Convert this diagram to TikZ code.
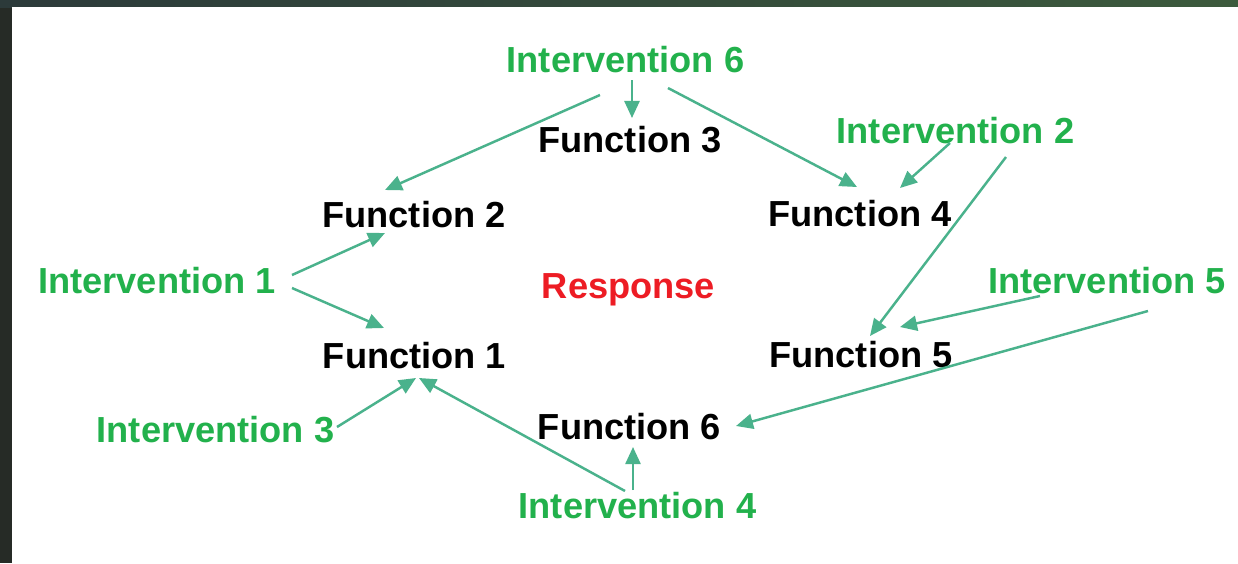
\documentclass[tikz,border=0pt]{standalone}
\usepackage{fontspec}
\setmainfont{Liberation Sans}
\usepackage{tikz}
\usetikzlibrary{arrows.meta}
\definecolor{frameDark}{RGB}{38,43,38}
\definecolor{frameLeft}{RGB}{44,58,58}
\definecolor{frameRight}{RGB}{60,90,60}
\definecolor{intGreen}{RGB}{34,177,76}
\definecolor{arrowTeal}{RGB}{74,178,140}
\definecolor{respRed}{RGB}{237,28,36}
\tikzset{
  func/.style={inner sep=0pt, anchor=base, font=\fontsize{10.3}{12}\selectfont\bfseries, text=black},
  interv/.style={func, text=intGreen},
  resp/.style={func, text=respRed},
  arr/.style={draw=arrowTeal, line width=0.7pt, -{Triangle[length=0.17cm,width=0.15cm]}}
}

\begin{document}
\begin{tikzpicture}[x=0.01cm, y=-0.01cm]
		% screenshot frame
		\fill[frameDark] (0,0) rectangle (1238,563);
		\shade[left color=frameLeft, right color=frameRight] (0,0) rectangle (1238,7);
		\fill[white] (12,7) rectangle (1238,563);
		\useasboundingbox (0,0) rectangle (1238,563);
		
		\node[resp] (response) at (628.5,298) {Response};
		
		\node[func] (f1) at (414.5,368) {Function 1};
		\node[func] (f2) at (414,227) {Function 2};
		\node[func] (f3) at (630,152) {Function 3};
		\node[func] (f4) at (860,226) {Function 4};
		\node[func] (f5) at (861,367) {Function 5};
		\node[func] (f6) at (629.5,439) {Function 6};
		
		\node[interv] (i1) at (157,293) {Intervention 1};
		\node[interv] (i2) at (955.5,143) {Intervention 2};
		\node[interv] (i3) at (215.5,442) {Intervention 3};
		\node[interv] (i4) at (637.5,518) {Intervention 4};
		\node[interv] (i5) at (1107,293) {Intervention 5};
		\node[interv] (i6) at (625.5,72) {Intervention 6};
		
		\draw[arr] ([shift={(6.5,8)}]i6.base) -- ([shift={(2,-34)}]f3.base);
		\draw[arr] ([shift={(-25.5,23)}]i6.base) -- ([shift={(-29,-37)}]f2.base);
		\draw[arr] ([shift={(42.5,16)}]i6.base) -- ([shift={(-3,-39)}]f4.base);
		
		\draw[arr] ([shift={(-5.5,0)}]i2.base) -- ([shift={(40,-38)}]f4.base);
		\draw[arr] ([shift={(50.5,14)}]i2.base) -- ([shift={(9,-31)}]f5.base);
		
		\draw[arr] ([shift={(135,-18)}]i1.base) -- ([shift={(-29,6)}]f2.base);
		\draw[arr] ([shift={(135,-5)}]i1.base) -- ([shift={(-30.5,-40)}]f1.base);
		
		\draw[arr] ([shift={(121.5,-15)}]i3.base) -- ([shift={(1.5,10)}]f1.base);
		
		\draw[arr] ([shift={(-12.5,-27)}]i4.base) -- ([shift={(4.5,10)}]f1.base);
		\draw[arr] ([shift={(-4.5,-28)}]i4.base) -- ([shift={(3.5,8)}]f6.base);
		
		\draw[arr] ([shift={(-67,3)}]i5.base) -- ([shift={(39,-40)}]f5.base);
		\draw[arr] ([shift={(41,18)}]i5.base) -- ([shift={(106.5,-13)}]f6.base);
	\end{tikzpicture}
\end{document}
